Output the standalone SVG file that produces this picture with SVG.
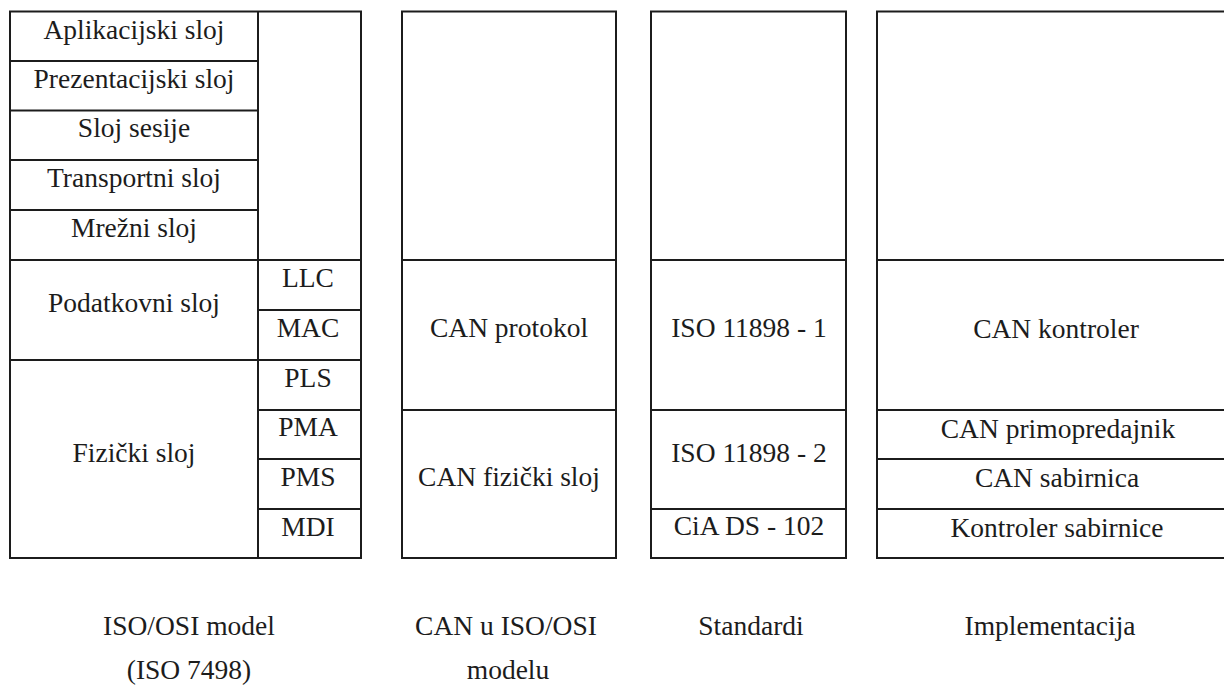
<svg xmlns="http://www.w3.org/2000/svg" width="1224" height="688" viewBox="0 0 1224 688">
<style>
.b{fill:none;stroke:#1c1c1c;stroke-width:2}
text{font-family:'Liberation Serif','DejaVu Serif',serif;font-size:27.5px;fill:#1c1c1c;text-anchor:middle}
</style>
<rect width="1224" height="688" fill="#ffffff"/>
<g id="iso-osi">
<rect class="b" x="10" y="11.5" width="351" height="546.5"/>
<path class="b" d="M258 11.5V558M10 61H258M10 110.5H258M10 160H258M10 210H258M10 260H361M258 310H361M10 360H361M258 410H361M258 459H361M258 509H361"/>
<text x="134" y="38.5">Aplikacijski sloj</text>
<text x="134" y="88">Prezentacijski sloj</text>
<text x="134" y="137">Sloj sesije</text>
<text x="134" y="187">Transportni sloj</text>
<text x="134" y="236.5">Mrežni sloj</text>
<text x="134" y="311.5">Podatkovni sloj</text>
<text x="134" y="461.5">Fizički sloj</text>
<text x="308" y="287">LLC</text>
<text x="308" y="337">MAC</text>
<text x="308" y="386.5">PLS</text>
<text x="308" y="436">PMA</text>
<text x="308" y="485.5">PMS</text>
<text x="308" y="536">MDI</text>
<text x="189" y="635">ISO/OSI model</text>
<text x="189" y="679">(ISO 7498)</text>
</g>
<g id="can-osi">
<rect class="b" x="402" y="11.5" width="214" height="546.5"/>
<path class="b" d="M402 260H616M402 410H616"/>
<text x="509" y="337">CAN protokol</text>
<text x="509" y="486">CAN fizički sloj</text>
<text x="506" y="635">CAN u ISO/OSI</text>
<text x="508" y="679">modelu</text>
</g>
<g id="standardi">
<rect class="b" x="651" y="11.5" width="195" height="546.5"/>
<path class="b" d="M651 260H846M651 410H846M651 509H846"/>
<text x="749" y="337">ISO 11898 - 1</text>
<text x="749" y="461.5">ISO 11898 - 2</text>
<text x="749" y="535">CiA DS - 102</text>
<text x="751" y="635">Standardi</text>
</g>
<g id="implementacija">
<rect class="b" x="877" y="11.5" width="359" height="546.5"/>
<path class="b" d="M877 260H1236M877 410H1236M877 459H1236M877 509H1236"/>
<text x="1056" y="338">CAN kontroler</text>
<text x="1058" y="438">CAN primopredajnik</text>
<text x="1057" y="486.5">CAN sabirnica</text>
<text x="1057" y="536.5">Kontroler sabirnice</text>
<text x="1050" y="635">Implementacija</text>
</g>
<g id="connectors"/>
</svg>
